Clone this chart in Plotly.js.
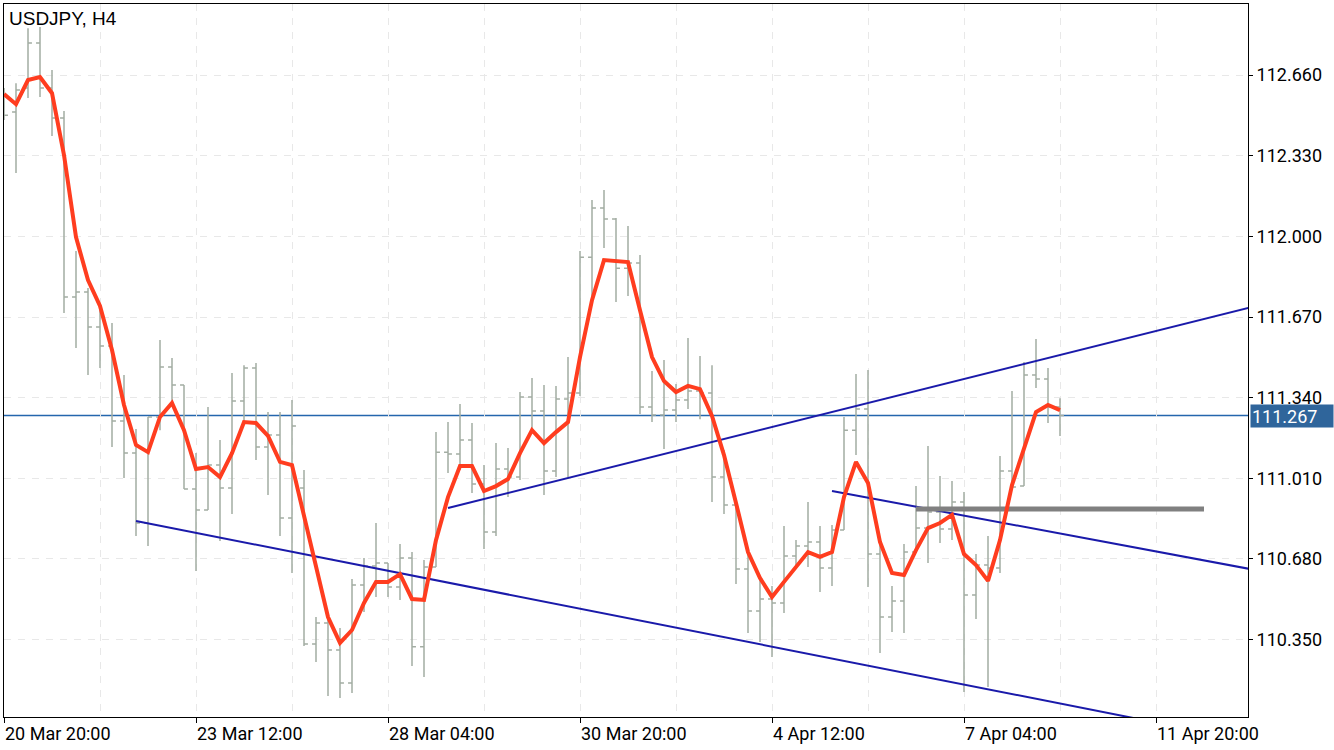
<!DOCTYPE html>
<html><head><meta charset="utf-8">
<script src="https://cdn.plot.ly/plotly-3.0.1.min.js"></script>
<style>html,body{margin:0;padding:0;background:#fff;} #chart{width:1334px;height:750px;}</style>
</head><body><div id="chart"></div>
<script>
const symbolTitle = "USDJPY, H4";
const timeLabels = ["20 Mar 20:00","23 Mar 12:00","28 Mar 04:00","30 Mar 20:00","4 Apr 12:00","7 Apr 04:00","11 Apr 20:00"];
const timeLabelBars = [0,16,32,48,64,80,96];
const priceTicks = [110.35,110.68,111.01,111.34,111.67,112.00,112.33,112.66];

const opens = [112.578,112.509,112.607,112.791,112.607,112.484,111.752,111.772,111.629,111.551,
111.244,111.113,110.827,111.261,111.465,111.392,110.966,110.880,111.064,110.970,
111.326,111.461,111.138,111.187,110.847,110.970,110.332,110.418,110.307,110.172,
110.573,110.651,110.663,110.565,110.684,110.320,110.647,111.117,111.109,111.167,
110.987,110.790,111.048,111.015,111.343,111.285,111.040,111.334,111.359,111.915,
112.116,112.071,111.870,111.891,111.302,111.269,111.289,111.330,111.367,111.359,
111.015,110.901,110.639,110.467,110.516,110.500,110.692,110.733,110.749,110.643,
110.798,111.207,111.293,110.700,110.442,110.508,110.708,110.806,110.872,110.802,
110.913,110.532,110.655,110.643,111.040,110.978,111.433,111.416,111.302];
const highs = [112.607,112.627,112.852,112.857,112.681,112.513,111.940,111.789,111.727,111.645,
111.433,111.212,111.261,111.576,111.502,111.392,111.113,111.302,111.167,111.441,
111.473,111.482,111.281,111.281,111.330,111.044,110.442,110.442,110.397,110.598,
110.684,110.827,110.663,110.741,110.708,110.676,111.199,111.240,111.314,111.236,
111.064,111.154,111.134,111.363,111.420,111.392,111.388,111.506,111.940,112.149,
112.190,112.075,112.042,111.924,111.449,111.494,111.396,111.584,111.510,111.473,
111.126,110.901,110.704,110.598,110.569,110.815,110.757,110.913,110.815,110.819,
111.261,111.437,111.453,110.737,110.569,110.741,110.978,111.142,111.019,110.999,
110.954,110.700,110.774,111.101,111.367,111.486,111.580,111.461,111.338];
const lows = [112.476,112.259,112.566,112.570,112.411,111.686,111.543,111.433,111.461,111.138,
111.011,110.774,110.733,111.207,111.310,110.966,110.631,110.880,110.753,110.864,
111.228,111.085,110.942,110.774,110.622,110.324,110.258,110.119,110.111,110.131,
110.463,110.524,110.524,110.512,110.242,110.197,110.647,111.032,111.044,110.950,
110.721,110.774,110.933,111.003,111.216,110.942,111.015,111.015,111.347,111.727,
111.952,111.731,111.756,111.273,111.240,111.130,111.240,111.293,111.252,110.913,
110.864,110.577,110.377,110.340,110.279,110.459,110.647,110.647,110.545,110.569,
110.798,111.105,110.565,110.295,110.381,110.377,110.708,110.663,110.745,110.757,
110.135,110.434,110.156,110.622,110.974,110.978,111.379,111.236,111.183];
const closes = [112.496,112.599,112.791,112.607,112.484,111.752,111.772,111.629,111.551,111.244,
111.113,110.827,111.261,111.465,111.392,110.966,110.880,111.064,110.970,111.326,
111.461,111.138,111.187,110.847,111.224,110.332,110.418,110.307,110.172,110.573,
110.651,110.663,110.565,110.684,110.320,110.647,111.117,111.109,111.167,110.987,
110.790,111.048,111.015,111.343,111.285,111.040,111.334,111.359,111.915,112.116,
112.071,111.870,111.891,111.302,111.269,111.289,111.330,111.367,111.359,111.015,
110.901,110.639,110.467,110.516,110.500,110.692,110.733,110.749,110.643,110.798,
111.207,111.293,110.700,110.442,110.508,110.708,110.806,110.872,110.802,110.913,
110.532,110.655,110.643,111.040,110.974,111.433,111.416,111.302,111.267];
const maValues = [112.582,112.541,112.640,112.652,112.586,112.333,111.997,111.821,111.715,111.535,
111.310,111.146,111.117,111.261,111.318,111.207,111.048,111.056,111.015,111.113,
111.240,111.236,111.183,111.077,111.064,110.851,110.655,110.442,110.336,110.389,
110.500,110.586,110.586,110.618,110.516,110.512,110.757,110.933,111.060,111.060,
110.958,110.978,111.007,111.113,111.207,111.154,111.199,111.240,111.506,111.739,
111.903,111.899,111.895,111.698,111.506,111.408,111.363,111.388,111.375,111.265,
111.105,110.909,110.708,110.602,110.524,110.586,110.647,110.708,110.688,110.708,
110.933,111.077,110.991,110.749,110.622,110.614,110.716,110.806,110.827,110.860,
110.700,110.655,110.590,110.757,110.982,111.138,111.281,111.310,111.289];
const lastPrice = 111.267;

const lowerChannelBars = [11, 104];
const lowerChannelPrices = [110.835, 109.933];
const risingLineBars = [37, 105];
const risingLinePrices = [110.888, 111.723];
const fallingLineBars = [69, 105];
const fallingLinePrices = [110.958, 110.628];
const levelBars = [76, 100];
const levelPrices = [110.884, 110.884];

const barIndex = opens.map((_, i) => i);
const barColor = '#a3ada3';
const trendColor = '#1a1aaa';

const traces = [
  {type:'ohlc', x:barIndex, open:opens, high:highs, low:lows, close:closes,
   increasing:{line:{color:barColor, width:1.5}}, decreasing:{line:{color:barColor, width:1.5}},
   tickwidth:0.33, hoverinfo:'skip', showlegend:false},
  {type:'scatter', mode:'lines', x:lowerChannelBars, y:lowerChannelPrices, line:{color:trendColor, width:2}, hoverinfo:'skip'},
  {type:'scatter', mode:'lines', x:risingLineBars, y:risingLinePrices, line:{color:trendColor, width:2}, hoverinfo:'skip'},
  {type:'scatter', mode:'lines', x:fallingLineBars, y:fallingLinePrices, line:{color:trendColor, width:2}, hoverinfo:'skip'},
  {type:'scatter', mode:'lines', x:levelBars, y:levelPrices, line:{color:'#808080', width:5}, hoverinfo:'skip'},
  {type:'scatter', mode:'lines', x:barIndex, y:maValues, line:{color:'#ff3d1f', width:4}, hoverinfo:'skip'}
];

const gridColor = '#e8e8e8';
const layout = {
  width:1334, height:750,
  margin:{l:4, r:86, t:4, b:33, pad:0},
  paper_bgcolor:'#ffffff', plot_bgcolor:'#ffffff',
  showlegend:false,
  font:{family:'Roboto, sans-serif', size:18, color:'#000'},
  xaxis:{
    range:[0, 103.667], tickmode:'array', tickvals:timeLabelBars, ticktext:timeLabels,
    ticklabelposition:'outside right', ticks:'outside', ticklen:5, tickcolor:'#000', tickwidth:1,
    showline:true, linecolor:'#000', linewidth:1, mirror:true,
    showgrid:true, gridcolor:gridColor, griddash:'7px,7px', gridwidth:1, zeroline:false,
    rangeslider:{visible:false}, fixedrange:true,
    minor:{tickmode:'linear', tick0:8, dtick:16, showgrid:true, gridcolor:gridColor, griddash:'7px,7px', ticks:''}
  },
  yaxis:{
    side:'right', range:[110.033, 112.951], tickmode:'array', tickvals:priceTicks, tickformat:'.3f',
    ticks:'outside', ticklen:4, tickcolor:'#000', tickwidth:1,
    showline:true, linecolor:'#000', linewidth:1, mirror:true,
    showgrid:true, gridcolor:gridColor, griddash:'7px,7px', gridwidth:1, zeroline:false, fixedrange:true
  },
  shapes:[
    {type:'line', xref:'paper', x0:0, x1:1, yref:'y', y0:lastPrice, y1:lastPrice,
     line:{color:'#2466ad', width:1.5}, layer:'between'}
  ],
  annotations:[
    {xref:'paper', yref:'paper', x:0, y:1, xanchor:'left', yanchor:'top', xshift:3, yshift:-2,
     text:symbolTitle, showarrow:false, font:{family:'Liberation Sans, Arial, sans-serif', size:19, color:'#000'}},
    {xref:'paper', yref:'y', x:1, y:lastPrice, xanchor:'left', yanchor:'middle', xshift:2, yshift:-1,
     text:lastPrice.toFixed(3), showarrow:false, bgcolor:'#2f659b', borderpad:1, width:80, height:20, align:'left',
     font:{family:'Roboto, sans-serif', size:18, color:'#ffffff'}}
  ]
};

Plotly.newPlot('chart', traces, layout, {staticPlot:true, displayModeBar:false});
</script>
</body></html>
